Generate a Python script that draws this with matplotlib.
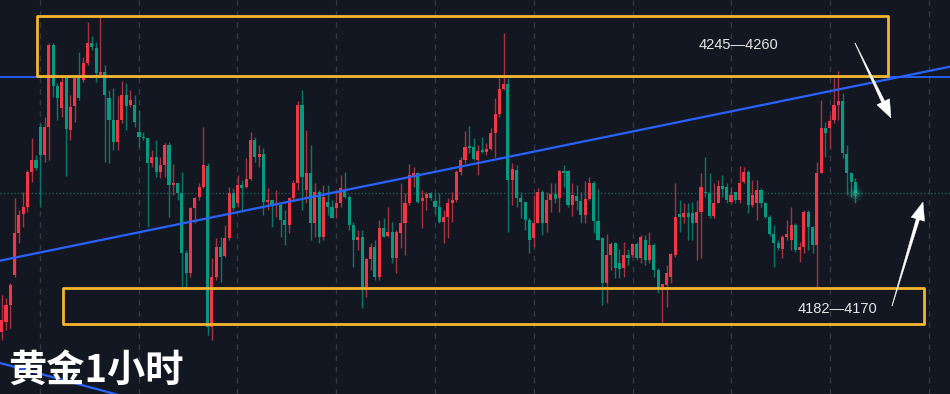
import numpy as np
import matplotlib
matplotlib.use("Agg")
import matplotlib.pyplot as plt
from matplotlib.patches import Rectangle, Polygon
from matplotlib.transforms import Affine2D

# ---------------- data (XAUUSD 1h) ----------------
opens = [4165.5, 4168.5, 4173.5, 4182.5, 4195, 4200.8, 4203, 4213.5, 4217, 4226.8,
         4218.5, 4227, 4251.5, 4239.2, 4232.5, 4241.5, 4226, 4233.2, 4241.5, 4241,
         4246, 4252, 4250.7, 4242.5, 4243.5, 4235.5, 4229, 4222.5, 4229, 4236.5,
         4233.5, 4233.5, 4225.5, 4224, 4223.5, 4216, 4218, 4213.5, 4215.5, 4221.5,
         4209.5, 4210, 4207.2, 4189, 4183, 4202.5, 4205.8, 4209, 4215.2, 4167,
         4182, 4191, 4188.2, 4193.5, 4207, 4204, 4209.5, 4209, 4211.2, 4223,
         4217.8, 4218.8, 4204.5, 4205, 4203.5, 4203.5, 4199, 4197.5, 4205.5, 4210.2,
         4233.5, 4208, 4213, 4198, 4207.5, 4194, 4204.5, 4203, 4202.5, 4204,
         4208, 4206, 4197.5, 4193, 4194, 4179, 4187.2, 4191, 4182, 4196.5,
         4194.2, 4195.5, 4187.5, 4195.2, 4198, 4204, 4212, 4213, 4204.8, 4205.5,
         4207, 4204.8, 4203, 4198.5, 4199.8, 4204.2, 4205, 4213.5, 4217, 4221.2,
         4221, 4217, 4220, 4219.5, 4220.2, 4225, 4230.8, 4238.3, 4239.8, 4211,
         4214, 4205.5, 4204.5, 4199, 4193.5, 4198, 4207.5, 4198, 4205, 4206.8,
         4205.5, 4213.6, 4213.8, 4203.5, 4206.2, 4204.8, 4200.5, 4205.2, 4210.2, 4198.8,
         4193.5, 4180, 4188.5, 4192, 4186, 4184.5, 4188.5, 4188.5, 4191.8, 4187.5,
         4193, 4187, 4191.5, 4184, 4179, 4179.5, 4182, 4188.5, 4200.8, 4199.8,
         4201, 4201, 4198, 4201.5, 4207.5, 4207.2, 4200.2, 4204, 4209.2, 4209,
         4204.5, 4207.5, 4205, 4210.5, 4213.5, 4203.5, 4204, 4208, 4204, 4200,
         4194.8, 4192, 4190.2, 4194, 4193, 4197.5, 4190, 4190.8, 4201.5, 4197,
         4191.5, 4213, 4226.5, 4226.5, 4229, 4233.5, 4234.8, 4218.8, 4213.2, 4210.5]
highs = [4176.5, 4175.5, 4180, 4205.5, 4202, 4207.5, 4214, 4223.5, 4218.5, 4228,
         4230, 4252, 4252, 4240, 4242, 4242, 4236.5, 4242, 4249.5, 4248,
         4258.5, 4254.2, 4252.5, 4260, 4245.5, 4238, 4238.5, 4236.2, 4240.8, 4240,
         4238, 4236.5, 4232, 4225.5, 4223.5, 4220, 4223, 4218, 4222, 4222.5,
         4215.8, 4210.2, 4213.5, 4190, 4203, 4206, 4210, 4227, 4216, 4187.5,
         4193.5, 4194, 4197.5, 4209, 4208.5, 4212.5, 4211, 4217.5, 4225.5, 4224,
         4221.5, 4220.5, 4208.5, 4205, 4208, 4204, 4202, 4206, 4211, 4234.8,
         4238, 4226, 4221.5, 4210, 4208, 4209.5, 4209.5, 4205, 4207.5, 4212.5,
         4213.5, 4206.5, 4198.5, 4196, 4196, 4187.5, 4192, 4193, 4199, 4199.5,
         4203, 4198.5, 4196, 4210, 4207, 4215.8, 4215, 4213.5, 4208, 4207.5,
         4207.5, 4207, 4207, 4202, 4205.5, 4207.5, 4214, 4218, 4225.8, 4227.2,
         4223.5, 4221.5, 4224, 4222, 4226.5, 4235.5, 4241.5, 4255.2, 4241.5, 4216.2,
         4215.5, 4207.5, 4204.5, 4199.5, 4206.5, 4208.5, 4208, 4207.5, 4210, 4210,
         4214, 4215.5, 4214, 4210, 4209.5, 4207.5, 4210.8, 4212, 4210.8, 4208.2,
         4194, 4194.8, 4192.5, 4192.5, 4190.2, 4192.5, 4190.2, 4192.2, 4192.5, 4194.4,
         4194.5, 4195.5, 4192, 4184.5, 4179.8, 4185.5, 4189, 4210, 4205, 4204,
         4204, 4204.5, 4205, 4213, 4218, 4213, 4210, 4211, 4212.5, 4210,
         4209, 4207.5, 4215.2, 4215, 4214, 4211, 4211, 4208.5, 4204.5, 4200.5,
         4197.5, 4193, 4194.5, 4199, 4203, 4198, 4192.5, 4202, 4202, 4197.2,
         4216.5, 4235, 4228.5, 4230.5, 4241.5, 4243.8, 4237, 4221.5, 4213.5, 4211.5]
lows = [4163, 4166, 4166.5, 4182, 4192, 4197, 4201.5, 4210.5, 4214, 4203,
        4216.5, 4217, 4236, 4229, 4230, 4212.2, 4223, 4228.5, 4235, 4240.5,
        4245.5, 4250, 4240.5, 4242, 4216.5, 4216, 4220, 4220, 4228, 4226,
        4233, 4227, 4221, 4223, 4197, 4215, 4212, 4211.5, 4212, 4200,
        4206.5, 4205, 4179, 4179, 4182, 4198, 4205, 4208.5, 4164.5, 4163,
        4181, 4180.5, 4188, 4193, 4202, 4203, 4201.5, 4208.5, 4211, 4216.5,
        4215, 4200.5, 4202, 4197, 4200, 4194, 4191.5, 4195, 4205, 4208,
        4202, 4204, 4193, 4194, 4192, 4193, 4200.5, 4199.5, 4199.5, 4203,
        4205.5, 4196, 4185, 4190, 4172.5, 4176, 4184, 4181, 4181, 4194,
        4194, 4186, 4183, 4190.5, 4188.5, 4203.5, 4209, 4204, 4196.5, 4202,
        4205, 4200.8, 4198, 4192, 4193.5, 4198.5, 4204.5, 4212.5, 4216, 4219,
        4217, 4212.5, 4219, 4218.5, 4220, 4218, 4230, 4238, 4195.5, 4203.5,
        4203, 4199.5, 4196, 4189, 4191, 4198, 4194.5, 4195.5, 4201.5, 4204,
        4201.5, 4209, 4203, 4200.2, 4202, 4198, 4198, 4205, 4195, 4193,
        4173.5, 4174.2, 4184, 4181.5, 4181.5, 4182, 4185.5, 4188, 4187, 4186,
        4185.5, 4186, 4182, 4177, 4168, 4173, 4180, 4188, 4195.5, 4198,
        4193, 4193, 4187, 4187.5, 4206, 4199.5, 4199.5, 4204, 4206, 4204,
        4204, 4204, 4204, 4210, 4201, 4203, 4199, 4203, 4199.5, 4194.2,
        4185, 4190, 4187.5, 4193, 4190, 4189.5, 4186.5, 4189, 4190, 4189,
        4179, 4213, 4218, 4220.5, 4228, 4229, 4217.5, 4206.5, 4206, 4204]
closes = [4169, 4173.5, 4179.5, 4195, 4200.5, 4203, 4213.5, 4217, 4214.5, 4218.5,
          4227, 4251.5, 4239.2, 4235.5, 4240.5, 4226.3, 4233, 4241.5, 4235.5, 4246,
          4252, 4250.8, 4243, 4243.5, 4236.5, 4229, 4222.5, 4229, 4236.5, 4233.2,
          4235, 4228.5, 4224, 4223.5, 4216.2, 4218, 4213.5, 4215.5, 4221.5, 4209.5,
          4210.2, 4207.2, 4189, 4183, 4202.5, 4205.5, 4209, 4215.5, 4167, 4182,
          4191, 4188, 4193.5, 4207, 4202.5, 4209.5, 4208.5, 4211.2, 4223, 4218,
          4218.8, 4204.5, 4205, 4203.5, 4204.2, 4199, 4197.5, 4205.5, 4210.2, 4233.5,
          4212, 4213, 4198, 4207.5, 4194, 4206, 4203, 4199.5, 4204, 4208.5,
          4206, 4197.5, 4193, 4194, 4179, 4187.2, 4191, 4182, 4196.5, 4194,
          4195.5, 4187.5, 4195.5, 4198, 4204, 4212.5, 4213, 4204.5, 4205.5, 4206.8,
          4205.5, 4203, 4198.5, 4200, 4204.2, 4205, 4213.5, 4217, 4221, 4220.5,
          4217.2, 4219.8, 4219.5, 4220.2, 4225, 4230.8, 4238.3, 4239.8, 4211, 4214.2,
          4205.5, 4204.5, 4199, 4193, 4198, 4207.5, 4198, 4205, 4206.8, 4205.2,
          4213.6, 4213, 4203.5, 4206.5, 4204.8, 4200.5, 4205.2, 4210.2, 4198.8, 4193,
          4180, 4188.5, 4191.8, 4184.5, 4184.2, 4188.5, 4187.5, 4191.8, 4187.5, 4194,
          4187, 4191.5, 4184, 4178.5, 4179.8, 4183, 4188.8, 4200, 4199.8, 4201,
          4200, 4198, 4201.5, 4209, 4207, 4200.2, 4204, 4209.2, 4208.2, 4205,
          4206.5, 4205, 4210.2, 4213.5, 4203.5, 4206.5, 4208, 4204, 4200, 4194.8,
          4192, 4190.5, 4194, 4194.8, 4197.5, 4190, 4191, 4201.5, 4197, 4191.5,
          4213, 4226.5, 4225.2, 4228.8, 4233.5, 4234.8, 4219, 4213.2, 4210.5, 4207]

# drawn zones / lines (price levels, bar-index anchors)
zone_top = (4242.3, 4260.3)
zone_bot = (4167.8, 4178.7)
zone_top_x = (8.23, 206.6)
zone_bot_x = (14.2, 214.9)
zone_top_label = "4245\u20144260"
zone_bot_label = "4182\u20144170"
resistance_level = 4241.8
trend_up = [(-0.4, 4186.8), (221.05, 4245.0)]
trend_down = [(-0.4, 4156.1), (26.4, 4146.8)]
title = "黄金1小时"

# ---------------- style ----------------
BG = "#131722"
UP = "#f23645"
DN = "#089981"
UP_W = "#a83340"
DN_W = "#0d7666"
BLUE = "#2962ff"
GOLD = "#f4b62c"

W, H = 950, 394
fig = plt.figure(figsize=(W / 100, H / 100), dpi=100)
fig.patch.set_facecolor(BG)
ax = fig.add_axes([0, 0, 1, 1])
ax.set_facecolor(BG)
for s in ax.spines.values():
    s.set_visible(False)

o = np.array(opens); h = np.array(highs); l = np.array(lows); c = np.array(closes)
idx = np.arange(len(c))
up = c >= o

ax.set_xlim(-0.4, 221.05)
ax.set_ylim(4146.8, 4265.0)

# vertical dashed grid
ax.set_xticks(np.arange(8.9, 221, 23.03))
ax.set_yticks([])
ax.tick_params(length=0, labelbottom=False, labelleft=False)
ax.grid(axis="x", color="#333742", linestyle=(0, (4, 4)), linewidth=1)
ax.set_axisbelow(True)

# last price dotted line
ax.axhline(c[-1], color="#1d5c55", linestyle=(0, (1, 1.5)), linewidth=1, zorder=1)

# wicks
ax.vlines(idx, l, h, colors=np.where(up, UP_W, DN_W), linewidth=1, zorder=2)
# bodies
body = np.maximum(np.abs(c - o), 0.35)
ax.bar(idx, body, bottom=np.minimum(o, c), width=0.72,
       color=np.where(up, UP, DN), linewidth=0, zorder=3)

# glow on last candle
for s_, a_ in [(140, 0.08), (60, 0.15), (18, 0.35)]:
    ax.scatter([idx[-1]], [c[-1]], s=s_, color="#2fd3b0", alpha=a_, linewidths=0, zorder=4)

# blue lines
ax.axhline(resistance_level, color=BLUE, linewidth=1.3, zorder=5)
(x0, y0), (x1, y1) = trend_up
ax.plot([x0, x1], [y0, y1], color=BLUE, linewidth=1.6, zorder=5)
(x0, y0), (x1, y1) = trend_down
k = (y1 - y0) / (x1 - x0)
ax.plot([x0, x1 + 20], [y0, y1 + 20 * k], color=BLUE, linewidth=1.6, zorder=5)

# gold zones
for (xa, xb), (ya, yb) in [(zone_top_x, zone_top), (zone_bot_x, zone_bot)]:
    ax.add_patch(Rectangle((xa, ya), xb - xa, yb - ya, fill=False, edgecolor=GOLD,
                           linewidth=2.0, joinstyle="round", zorder=6))

ax.text(171.7, 4251.35, zone_top_label, ha="center", va="center", color="#e6e6e6",
        fontsize=10.5, family=["Liberation Sans", "DejaVu Sans"], zorder=7)
ax.text(194.8, 4172.3, zone_bot_label, ha="center", va="center", color="#e6e6e6",
        fontsize=10.5, family=["Liberation Sans", "DejaVu Sans"], zorder=7)

# white tapered arrows (pixel coordinates of the picture)
pix = Affine2D().scale(1 / W, 1 / H) + fig.transFigure


def arrow(tail, tip, w0=0.4, w1=3.4, head_len=18, head_w=14):
    t = np.array([tail[0], H - tail[1]], float)
    p = np.array([tip[0], H - tip[1]], float)
    d = p - t
    L = np.hypot(*d)
    u = d / L
    n = np.array([-u[1], u[0]])
    b = p - u * head_len
    pts = [t + n * w0 / 2, b + n * w1 / 2, b + n * head_w / 2, p,
           b - n * head_w / 2, b - n * w1 / 2, t - n * w0 / 2]
    fig.patches.append(Polygon(pts, closed=True, facecolor="white",
                               edgecolor="white", linewidth=0.3, transform=pix,
                               zorder=10))


arrow((855, 43), (891, 118))
arrow((892, 306), (923, 202))

fig.text(8 / W, 1 - 371 / H, title, ha="left", va="center", color="white",
         fontsize=27.5, fontweight="bold",
         family=["Noto Sans CJK SC", "DejaVu Sans"])

fig.savefig("out.png", dpi=100, facecolor=BG)
